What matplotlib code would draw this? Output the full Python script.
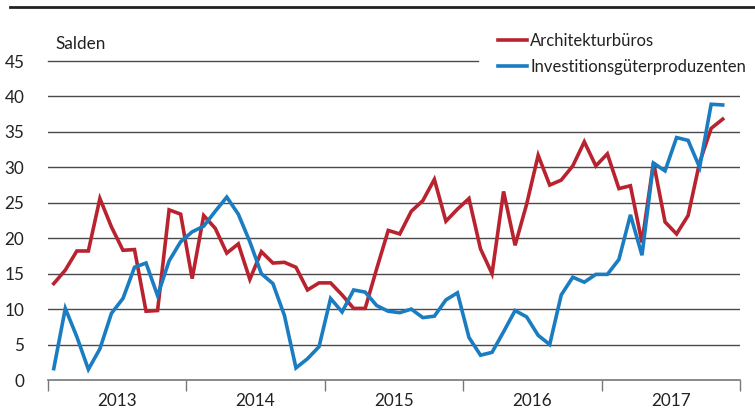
import matplotlib.pyplot as plt
from matplotlib.lines import Line2D

# monthly values, Jan 2013 - Nov 2017
architekten = [13.6, 15.5, 18.2, 18.2, 25.6, 21.6, 18.3, 18.4, 9.7, 9.8, 24.0, 23.4,
               14.3, 23.2, 21.4, 17.9, 19.2, 14.2, 18.1, 16.5, 16.6, 15.9, 12.7, 13.7,
               13.7, 12.0, 10.1, 10.1, 15.7, 21.1, 20.6, 23.8, 25.3, 28.3, 22.4, 24.1,
               25.6, 18.5, 15.0, 26.6, 19.0, 24.8, 31.7, 27.5, 28.2, 30.2, 33.6, 30.2,
               31.9, 27.0, 27.4, 19.4, 30.7, 22.3, 20.6, 23.2, 30.7, 35.5, 36.8]
investition = [1.6, 10.1, 6.1, 1.5, 4.4, 9.4, 11.5, 15.9, 16.5, 11.9, 16.8, 19.5,
               20.9, 21.7, 23.8, 25.8, 23.4, 19.5, 15.0, 13.6, 9.1, 1.7, 3.0, 4.7,
               11.5, 9.6, 12.7, 12.4, 10.5, 9.7, 9.5, 10.0, 8.8, 9.0, 11.3, 12.3,
               6.0, 3.5, 3.9, 6.8, 9.8, 8.9, 6.3, 5.0, 12.0, 14.5, 13.8, 14.9,
               14.9, 17.0, 23.3, 17.6, 30.6, 29.5, 34.2, 33.8, 30.0, 38.9, 38.8]
years = ['2013', '2014', '2015', '2016', '2017']
yticks = [0, 5, 10, 15, 20, 25, 30, 35, 40, 45]

RED = '#b8232f'
BLUE = '#1a7cc1'
GRID = '#4a4a4a'
FS = 12.3

plt.rcParams['font.family'] = ['Lato', 'DejaVu Sans']

fig = plt.figure(figsize=(7.55, 4.11), dpi=100)
ax = fig.add_axes([48 / 755, 1 - 380 / 411, 692 / 755, 319 / 411])

x = [i + 0.5 for i in range(len(architekten))]
ax.plot(x, architekten, color=RED, lw=2.6, solid_joinstyle='miter', zorder=3)
ax.plot(x, investition, color=BLUE, lw=2.6, solid_joinstyle='miter', zorder=3)

ax.set_xlim(0, 60)
ax.set_ylim(0, 45)
ax.set_yticks(yticks)
ax.set_yticklabels([str(v) for v in yticks], fontsize=FS, color='#222222')
ax.tick_params(axis='y', length=0, pad=17)
for v in yticks[1:-1]:
    ax.axhline(v, color=GRID, lw=1.0, zorder=1)
# top gridline stops short of the legend
ax.axhline(45, xmax=(478 - 48) / 692, color=GRID, lw=1.0, zorder=1, clip_on=False)

ax.set_xticks([0, 12, 24, 36, 48, 60])
ax.set_xticklabels([])
ax.set_xticks([6, 18, 30, 42, 54], minor=True)
ax.set_xticklabels(years, minor=True, fontsize=FS, color='#222222')
ax.tick_params(axis='x', which='major', length=8, width=1, color='#777777', direction='out')
ax.tick_params(axis='x', which='minor', length=0, pad=9)

for s in ['top', 'right', 'left']:
    ax.spines[s].set_visible(False)
ax.spines['bottom'].set_color('#777777')
ax.spines['bottom'].set_linewidth(1.2)

fig.text(55 / 755, 1 - 44 / 411, 'Salden', fontsize=FS, color='#222222', va='center')

# thick rule at the top of the figure
fig.add_artist(Line2D([10 / 755, 1], [1 - 7 / 411, 1 - 7 / 411], color='#222222', lw=2))

handles = [Line2D([], [], color=RED, lw=2.6), Line2D([], [], color=BLUE, lw=2.6)]
leg = fig.legend(handles, ['Architekturbüros', 'Investitionsgüterproduzenten'],
                 loc='upper right', bbox_to_anchor=(746 / 755, 1 - 33 / 411),
                 fontsize=12, frameon=False, handlelength=1.7, handletextpad=0.2,
                 borderpad=0.0, labelspacing=0.62, borderaxespad=0)
for t in leg.get_texts():
    t.set_color('#222222')

fig.savefig('out.png', dpi=100)
